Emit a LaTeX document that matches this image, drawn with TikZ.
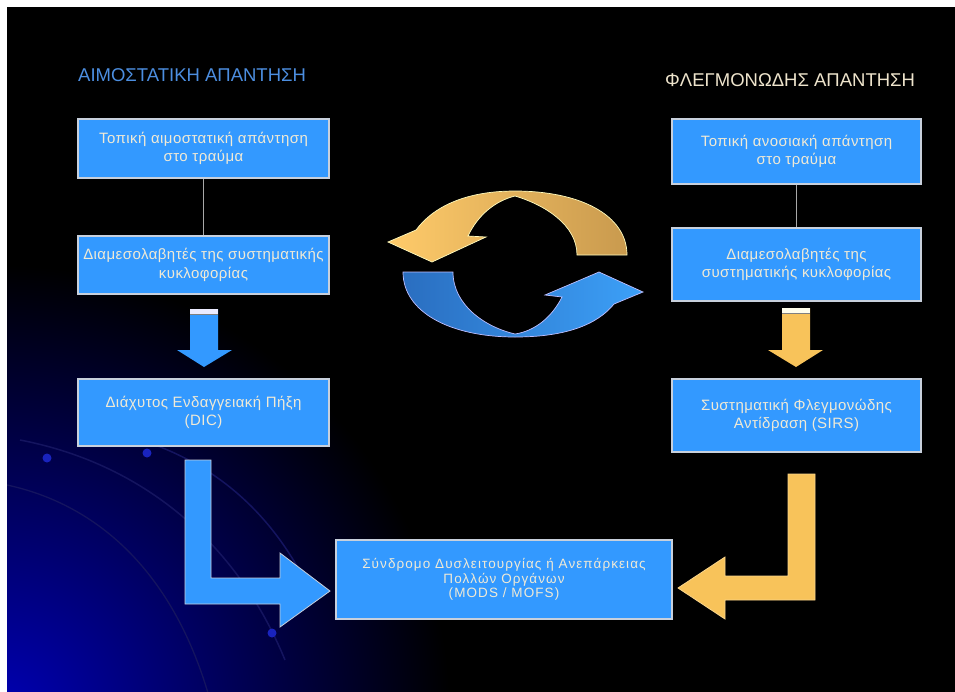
\documentclass[tikz,border=0pt]{standalone}
\usepackage{fontspec}
\setmainfont{Liberation Sans}
\newfontfamily\boxfont[LetterSpace=3]{Liberation Sans}
\newfontfamily\widefont[LetterSpace=8]{Liberation Sans}
\definecolor{boxblue}{HTML}{3399FF}
\definecolor{boxtext}{HTML}{F0EAD6}
\definecolor{boxline}{HTML}{C8D0DC}
\definecolor{titleblue}{HTML}{4C8EE0}
\definecolor{titlecream}{HTML}{EEE4CC}
\definecolor{arrowyellow}{HTML}{F8C35A}
\definecolor{cycyelL}{HTML}{FFCB6A}
\definecolor{cycyelR}{HTML}{C99A4E}
\definecolor{cycbluL}{HTML}{2A6EC0}
\definecolor{cycbluR}{HTML}{3CA0F8}
\definecolor{connline}{HTML}{A8A8A8}
\definecolor{deepblue}{RGB}{0,0,180}
\definecolor{arcblue}{RGB}{20,20,95}
\definecolor{dotblue}{RGB}{25,35,190}
\begin{document}
\begin{tikzpicture}[x=1pt,y=-1pt,
  box/.style={draw=boxline, line width=1.2pt, fill=boxblue, text=boxtext,
    align=center, inner sep=0pt, font=\boxfont\fontsize{15}{18.5}\selectfont},
  conn/.style={draw=connline, line width=1.6pt},
  blockblue/.style={fill=boxblue, draw=boxline, line width=0.8pt},
  blockyellow/.style={fill=arrowyellow, draw=arrowyellow!70!white, line width=0.8pt},
  title/.style={anchor=west, inner sep=0pt, font=\fontsize{18.5}{20}\selectfont}]
% background
\fill[white] (0,0) rectangle (955,691);
\useasboundingbox (0,0) rectangle (955,691);
\fill[black] (7,7) rectangle (965,700);
\begin{scope}
  \clip (7,7) rectangle (965,700);
  \shade[inner color=deepblue, outer color=black] (0,715) circle (450);
  \draw[arcblue, line width=1.5pt] (20,440) .. controls (150,465) and (240,550) .. (285,660);
  \draw[arcblue, line width=1.5pt] (100,430) .. controls (210,450) and (275,515) .. (312,595);
  \draw[arcblue, line width=1.3pt] (7,485) .. controls (100,505) and (175,575) .. (210,700);
  \fill[dotblue] (47,458) circle (4.5);
  \fill[dotblue] (147,453) circle (4.5);
  \fill[dotblue] (272,633) circle (4.5);
\end{scope}
% titles
\node[title, text=titleblue] (tl) at (78,75) {ΑΙΜΟΣΤΑΤΙΚΗ ΑΠΑΝΤΗΣΗ};
\node[title, text=titlecream] (tr) at (665,80) {ΦΛΕΓΜΟΝΩΔΗΣ ΑΠΑΝΤΗΣΗ};
% boxes
\node[box, minimum width=251pt, minimum height=59pt] (L1) at (203.5,148.5) {Τοπική αιμοστατική απάντηση\\στο τραύμα};
\node[box, minimum width=251pt, minimum height=58pt] (L2) at (203.5,265) {Διαμεσολαβητές της συστηματικής\\κυκλοφορίας};
\node[box, minimum width=251pt, minimum height=67pt] (L3) at (203.5,412.5) {Διάχυτος Ενδαγγειακή Πήξη\\(DIC)};
\node[box, minimum width=249pt, minimum height=65pt] (R1) at (796.5,151.5) {Τοπική ανοσιακή απάντηση\\στο τραύμα};
\node[box, minimum width=249pt, minimum height=73pt] (R2) at (796.5,264.5) {Διαμεσολαβητές της\\συστηματικής κυκλοφορίας};
\node[box, minimum width=249pt, minimum height=73pt] (R3) at (796.5,415.5) {Συστηματική Φλεγμονώδης\\Αντίδραση (SIRS)};
\node[box, minimum width=336pt, minimum height=79pt, font=\widefont\fontsize{13.5}{14.2}\selectfont] (B) at (504,579.5) {Σύνδρομο Δυσλειτουργίας ή Ανεπάρκειας\\Πολλών Οργάνων\\(MODS / MOFS)};
% connectors
\draw[conn] (L1) -- (L2);
\draw[conn] (R1) -- (R2);
% down arrows
\fill[boxblue] (190,309) -- (218,309) -- (218,350) -- (232,350) -- (204,367) -- (177,350) -- (190,350) -- cycle;
\fill[white!92!blue] (190,309) rectangle (218,313.5);
\draw[gray, line width=0.8pt] (190,314.5) -- (218,314.5);
\fill[arrowyellow] (782,308) -- (810,308) -- (810,350) -- (823,350) -- (796,367) -- (768,350) -- (782,350) -- cycle;
\fill[white!92!yellow] (782,308) rectangle (810,312.5);
\draw[gray, line width=0.8pt] (782,313.5) -- (810,313.5);
% L arrows
\draw[blockblue] (185,460) -- (211,460) -- (211,578) -- (280,578) -- (280,553) -- (330,591) -- (280,627) -- (280,604) -- (185,604) -- cycle;
\draw[blockyellow] (788,474) -- (815,474) -- (815,600) -- (725,600) -- (725,619) -- (678,588) -- (725,557) -- (725,576) -- (788,576) -- cycle;
% cycle arrows
\shade[left color=cycyelL, right color=cycyelR, draw=white!75!yellow, line width=0.7pt]
  (627,255) .. controls (627,215) and (580,191) .. (515,191)
  .. controls (465,191) and (433,207) .. (416,230) -- (388,242) -- (432,262) -- (486,237) -- (468,236)
  .. controls (478,215) and (495,201) .. (515,196)
  .. controls (545,205) and (577,225) .. (577,255) -- cycle;
\shade[left color=cycbluL, right color=cycbluR, draw=white!75!blue, line width=0.7pt]
  (403,272) .. controls (403,312) and (450,337) .. (515,337)
  .. controls (565,337) and (597,325) .. (614,304) -- (643,292) -- (599,272) -- (545,295) -- (562,297)
  .. controls (552,317) and (535,331) .. (515,334)
  .. controls (485,327) and (453,305) .. (453,272) -- cycle;
\end{tikzpicture}
\end{document}
